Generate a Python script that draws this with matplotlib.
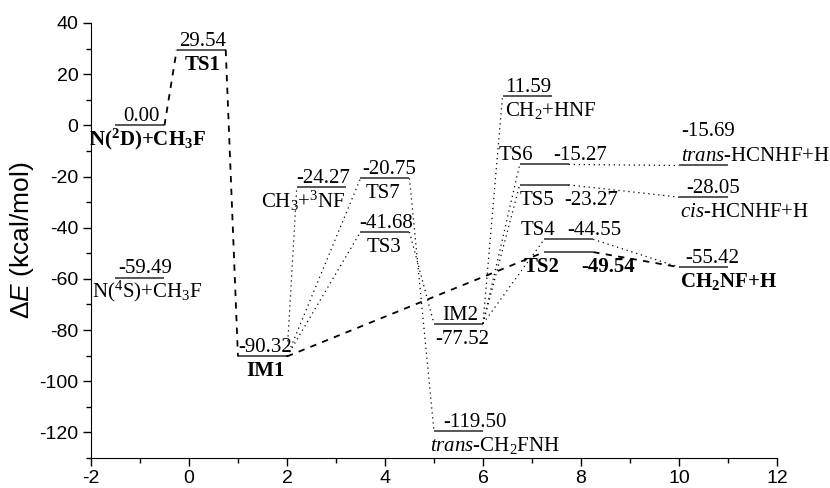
import matplotlib
matplotlib.use("Agg")
import matplotlib.pyplot as plt
from matplotlib.ticker import MultipleLocator

plt.rcParams["font.family"] = "Liberation Serif"
plt.rcParams["mathtext.fontset"] = "custom"
plt.rcParams["mathtext.rm"] = "Liberation Serif"
plt.rcParams["mathtext.it"] = "Liberation Serif:italic"
plt.rcParams["mathtext.bf"] = "Liberation Serif:bold"
plt.rcParams["mathtext.sf"] = "Liberation Sans:italic"
plt.rcParams["axes.unicode_minus"] = False

# species and relative energies (kcal/mol)
species = ["N2D", "TS1", "IM1", "N4S", "CH3_NF", "TS7", "TS3", "IM2",
           "tCH2FNH", "CH2_HNF", "TS6", "TS5", "TS4", "TS2",
           "tHCNHF_H", "cHCNHF_H", "CH2NF_H"]
energies = [0.00, 29.54, -90.32, -59.49, -24.27, -20.75, -41.68, -77.52,
            -119.50, 11.59, -15.27, -23.27, -44.55, -49.54,
            -15.69, -28.05, -55.42]
names = [r"N($^\mathbf{2}$D)+CH$_\mathbf{3}$F", "TS1", "IM1",
         r"N($^4$S)+CH$_3$F", r"CH$_3$+$^3$NF", "TS7", "TS3", "IM2",
         r"$\mathit{trans}$-CH$_2$FNH", r"CH$_2$+HNF", "TS6", "TS5", "TS4",
         "TS2", r"$\mathit{trans}$-HCNHF+H", r"$\mathit{cis}$-HCNHF+H",
         r"CH$_\mathbf{2}$NF+H"]
bold_names = ["N2D", "TS1", "IM1", "TS2", "CH2NF_H"]
bold_values = ["TS2"]

# pathways
dashed_links = [("N2D", "TS1"), ("TS1", "IM1"), ("IM1", "TS2"), ("TS2", "CH2NF_H")]
dotted_links = [("IM1", "CH3_NF"), ("IM1", "TS7"), ("IM1", "TS3"),
                ("TS7", "tCH2FNH"), ("TS3", "IM2"),
                ("IM2", "CH2_HNF"), ("IM2", "TS6"), ("IM2", "TS5"), ("IM2", "TS4"),
                ("TS6", "tHCNHF_H"), ("TS5", "cHCNHF_H"), ("TS4", "CH2NF_H")]

# layout: left end of each level, and label placement (x centre, row)
level_left = {"N2D": -1.5, "TS1": -0.25, "IM1": 1.0, "N4S": -1.5,
              "CH3_NF": 2.2, "TS7": 3.5, "TS3": 3.5, "IM2": 5.0,
              "tCH2FNH": 5.0, "CH2_HNF": 6.4, "TS6": 6.75, "TS5": 6.75,
              "TS4": 7.25, "TS2": 7.25, "tHCNHF_H": 10.0, "cHCNHF_H": 10.0,
              "CH2NF_H": 10.0}
level_width = 1.0
# (value x, value row, name x, name row); row 1/2 above line, -1 below
label_pos = {"N2D": (-0.98, 1, -0.85, -1), "TS1": (0.28, 1, 0.28, -1),
             "IM1": (1.56, 1, 1.57, -1), "N4S": (-0.89, 1, -0.86, -1),
             "CH3_NF": (2.74, 1, 2.34, -1), "TS7": (4.08, 1, 3.96, -1),
             "TS3": (4.02, 1, 3.98, -1), "IM2": (5.57, -1, 5.53, 1),
             "tCH2FNH": (5.84, 1, 6.24, -1), "CH2_HNF": (6.92, 1, 7.39, -1),
             "TS6": (7.98, 1, 6.67, 1), "TS5": (8.2, -1, 7.1, -1),
             "TS4": (8.27, 1, 7.12, 1), "TS2": (8.55, -1, 7.2, -1),
             "tHCNHF_H": (10.6, 2, 11.57, 1), "cHCNHF_H": (10.7, 1, 11.33, -1),
             "CH2NF_H": (10.68, 1, 11.0, -1)}

energy = dict(zip(species, energies))
label = dict(zip(species, names))

fig = plt.figure(figsize=(8.3, 4.88), dpi=100)
ax = fig.add_axes([0.1096, 0.0615, 0.8265, 0.8914])

for s in species:
    x0 = level_left[s]
    ax.hlines(energy[s], x0, x0 + level_width, color="#4a4a4a", lw=1.3)

for a, b in dashed_links:
    ax.plot([level_left[a] + level_width, level_left[b]], [energy[a], energy[b]],
            color="black", lw=1.3, linestyle=(0, (3.5, 3.5)))
for a, b in dotted_links:
    ax.plot([level_left[a] + level_width, level_left[b]], [energy[a], energy[b]],
            color="black", lw=0.9, linestyle=(0, (1, 3)))


def put_text(x, y, s, row, bold):
    if row > 0:
        ty = y + 1.6 + (row - 1) * 10.0
    else:
        ty = y - 7.8
    ax.text(x, ty, s, ha="center", va="baseline", fontsize=15,
            fontweight="bold" if bold else "normal")


for s in species:
    vx, vrow, nx, nrow = label_pos[s]
    put_text(vx, energy[s], f"{energy[s]:.2f}", vrow, s in bold_values)
    put_text(nx, energy[s], label[s], nrow, s in bold_names)

ax.set_xlim(-2, 12)
ax.set_ylim(-130, 40)
ax.spines["top"].set_visible(False)
ax.spines["right"].set_visible(False)
ax.xaxis.set_major_locator(MultipleLocator(2))
ax.xaxis.set_minor_locator(MultipleLocator(1))
ax.yaxis.set_major_locator(MultipleLocator(20))
ax.yaxis.set_minor_locator(MultipleLocator(10))
ax.tick_params(which="major", direction="out", length=6, width=1.0, pad=3)
ax.tick_params(which="minor", direction="out", length=3.5, width=1.0)
for lab in ax.get_xticklabels() + ax.get_yticklabels():
    lab.set_fontfamily("Liberation Sans")
    lab.set_fontsize(14)

ax.set_ylabel(r"Δ$\mathsf{E}$ (kcal/mol)", fontfamily="Liberation Sans", fontsize=19)
ax.yaxis.set_label_coords(-0.08, 0.5)

fig.savefig("out.png", dpi=100)
